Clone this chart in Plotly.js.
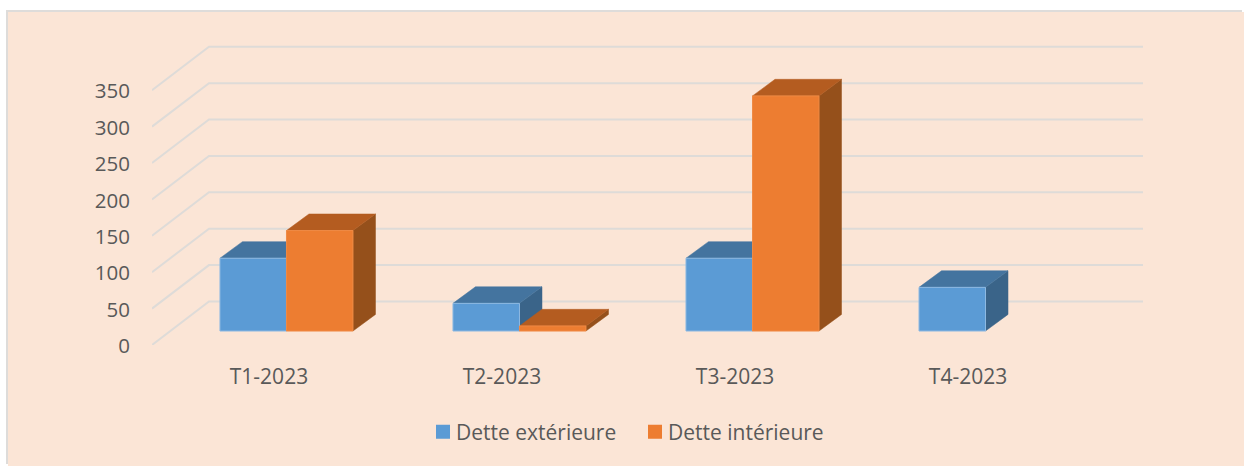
<!DOCTYPE html>
<html><head><meta charset="utf-8">
<script src="https://cdn.plot.ly/plotly-3.0.1.min.js"></script>
<style>
html,body{margin:0;padding:0;background:#fff;width:1244px;height:467px;overflow:hidden}
#chart{position:absolute;left:8px;top:12px;width:1236px;height:454px;box-shadow:-2px -2px 0 #DEDCDA}
</style></head><body><div id="chart"></div>
<script>
const categories = ["T1-2023","T2-2023","T3-2023","T4-2023"];
const detteExterieure = [100, 38, 100, 60];
const detteInterieure = [138, 7, 323, null];
const yTicks = [0,50,100,150,200,250,300,350];

const FONT = "'Open Sans', sans-serif", TXT = "#595959";
// pseudo-3D projection expressed in axis units
const xRange = [-0.502, 3.751], yRange = [0, 419];
const wallDx = 0.2446, wallDy = 59.75;     // floor depth
const barDx = 0.0966, barDy = 22.8;        // bar depth
const barBase = 19.2;                      // bar foot above the front axis
const barW = 0.2854, barLeft = -0.2103;    // bar width and first-bar offset

const series = [
  {name:"Dette extérieure", values:detteExterieure, slot:0, front:"#5B9BD5", top:"#44749F", side:"#3A6489", edge:"#8DB9E2"},
  {name:"Dette intérieure", values:detteInterieure, slot:1, front:"#ED7D31", top:"#B45C20", side:"#95501B", edge:"#EF8A45"}
];

const traces = [];
// wall grid
const gx = [], gy = [];
yTicks.forEach(v => { gx.push(xRange[0], xRange[0]+wallDx, xRange[1], null); gy.push(v, v+wallDy, v+wallDy, null); });
traces.push({type:"scatter", mode:"lines", x:gx, y:gy, line:{color:"#DEDBD8", width:2}, showlegend:false, hoverinfo:"skip"});

// top and side faces, in paint order
function face(xs, ys, color){
  traces.push({type:"scatter", mode:"lines", x:xs.concat(xs[0]), y:ys.concat(ys[0]), fill:"toself",
    fillcolor:color, line:{color:color, width:0.5}, showlegend:false, hoverinfo:"skip"});
}
categories.forEach((c,i) => series.forEach(s => {
  const v = s.values[i]; if (v === null) return;
  const L = i + barLeft + s.slot*barW, R = L + barW, B = barBase, T = barBase + v;
  face([R, R+barDx, R+barDx, R], [B, B+barDy, T+barDy, T], s.side);
  face([L, R, R+barDx, L+barDx], [T, T, T+barDy, T+barDy], s.top);
}));

// front faces: real bars on an overlay so they sit above the depth faces
series.forEach(s => traces.push({
  type:"bar", name:s.name, xaxis:"x2", yaxis:"y2",
  x:categories.map((c,i)=> i + barLeft + s.slot*barW + barW/2),
  y:s.values, base:barBase, width:barW,
  marker:{color:s.front, line:{color:s.edge, width:1}}
}));

const layout = {
  width:1236, height:454, margin:{l:144, r:101, t:28, b:121},
  paper_bgcolor:"#FBE5D6", plot_bgcolor:"rgba(0,0,0,0)", barmode:"overlay",
  font:{family:FONT, color:TXT, size:21},
  xaxis:{range:xRange, tickmode:"array", tickvals:[0,1,2,3], ticktext:categories, showgrid:false, zeroline:false, showline:false,
    ticks:"outside", ticklen:13, tickcolor:"rgba(0,0,0,0)", tickfont:{family:FONT,size:21,color:TXT}},
  yaxis:{range:yRange, tickmode:"array", tickvals:yTicks, showgrid:false, zeroline:false, showline:false,
    ticks:"outside", ticklen:17, tickcolor:"rgba(0,0,0,0)", tickfont:{family:FONT,size:20.5,color:TXT}, ticklabelshift:1},
  xaxis2:{range:xRange, overlaying:"x", visible:false},
  yaxis2:{range:yRange, overlaying:"y", visible:false},
  legend:{orientation:"h", x:0.2664, xanchor:"left", y:-0.218, yanchor:"top", font:{family:FONT,size:21,color:TXT}, bgcolor:"rgba(0,0,0,0)", traceorder:"normal", entrywidth:167, entrywidthmode:"pixels"},
  showlegend:true
};
Plotly.newPlot("chart", traces, layout, {displayModeBar:false, staticPlot:true}).then(() => {
  // swatches: 14px squares sitting closer to their labels
  document.querySelectorAll("#chart .legend .legendpoints path").forEach(p => {
    p.setAttribute("d", "M7,7H-7V-7H7Z");
    p.setAttribute("transform", "translate(27,0)");
    p.style.strokeWidth = "0";
  });
});
</script></body></html>
